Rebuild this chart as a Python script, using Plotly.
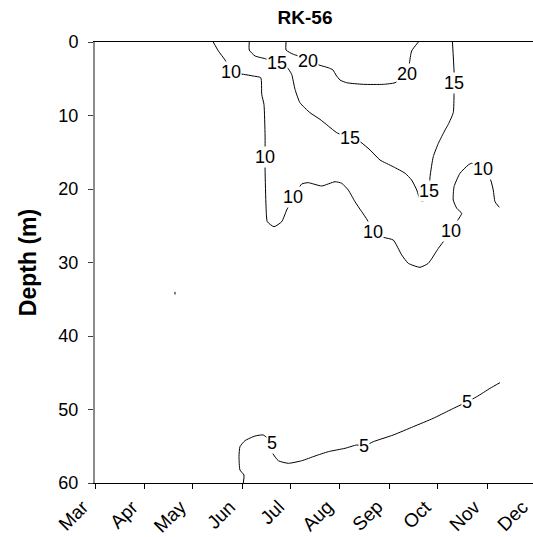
import plotly.graph_objects as go

# ---- data (x = days since 1 March, y = depth in m) ----
month_labels = ["Mar", "Apr", "May", "Jun", "Jul", "Aug", "Sep", "Oct", "Nov", "Dec"]
month_days = [31, 30, 31, 30, 31, 31, 30, 31, 30]
depth_ticks = [0, 10, 20, 30, 40, 50, 60]

c10_day = [73.9, 77.1, 81.3, 84.8, 88.8, 92.7, 98.9, 103.6, 104.2, 105.6, 106.3, 106.3, 106.3,
           106.9, 107.7, 111.9, 116.7, 119.8, 123.9, 129.2, 133.3, 141.7, 150.0, 154.2, 158.3,
           162.5, 166.7, 170.2, 173.9, 180.2, 186.4, 191.7, 195.8, 203.1, 208.3, 214.6, 217.7,
           222.3, 227.1, 229.2, 226.1, 223.9, 224.4, 228.1, 233.3, 235.4, 242.7, 247.3, 248.9,
           250.0, 252.7]
c10_depth = [0.0, 1.22, 2.45, 3.81, 4.29, 4.39, 4.63, 4.86, 7.12, 8.48, 12.79, 15.61, 17.41,
             22.41, 24.45, 25.13, 24.45, 22.86, 21.13, 19.32, 19.14, 19.59, 19.01, 19.22, 20.14,
             21.73, 23.09, 24.22, 25.81, 26.57, 26.94, 28.98, 30.11, 30.65, 30.11, 28.07, 27.17,
             25.67, 24.12, 23.31, 22.63, 21.50, 19.69, 17.86, 16.73, 16.50, 17.32, 18.78, 20.14,
             21.73, 22.49]

c15_day = [96.4, 96.4, 100.0, 106.3, 113.9, 120.2, 122.9, 125.0, 128.1, 134.4, 140.6, 145.8,
           151.1, 159.4, 165.6, 171.9, 178.1, 186.4, 193.8, 197.9, 201.1, 202.1, 203.8, 206.9,
           208.9, 209.4, 211.4, 214.6, 218.8, 220.8, 223.9, 224.4, 224.4, 224.4, 223.4]
c15_depth = [0.0, 1.09, 1.90, 2.27, 2.90, 3.50, 4.39, 6.44, 8.26, 9.62, 10.52, 11.43,
             12.34, 13.10, 13.56, 14.69, 16.05, 16.97, 17.86, 18.78, 20.14, 20.82, 21.63, 21.5,
             20.23, 18.33, 15.61, 13.78, 11.97, 11.20, 9.62, 7.12, 5.54, 3.95, 0.0]

c20_day = [119.4, 119.4, 123.9, 127.1, 133.3, 140.6, 145.8, 148.75, 150.6, 153.1, 157.3,
           167.7, 180.2, 187.5, 195.2, 196.4, 197.9, 202.1]
c20_depth = [0.0, 1.09, 1.67, 1.90, 2.59, 3.17, 3.50, 3.81, 4.49, 5.17, 5.54,
             5.76, 5.76, 5.54, 4.39, 3.03, 1.22, 0.0]

c5_day = [92.7, 93.1, 90.6, 90.0, 90.6, 93.75, 100.0, 105.2, 110.4, 111.1, 114.6, 120.8,
          129.2, 137.5, 145.8, 156.25, 163.6, 168.3, 173.9, 186.4, 198.9, 211.4, 221.9,
          232.7, 238.6, 246.9, 253.1]
c5_depth = [60.0, 58.91, 58.23, 56.42, 55.06, 54.24, 53.61, 53.47, 54.52, 55.96, 56.97, 57.32,
            56.97, 56.33, 55.74, 55.28, 54.83, 54.97, 54.38, 53.47, 52.34, 51.20, 50.07,
            48.94, 48.26, 47.12, 46.35]

speck_day = [50.0, 50.0]
speck_depth = [34.0, 34.35]

label_text = ["10", "10", "10", "10", "10", "10",
              "15", "15", "15", "15",
              "20", "20",
              "5", "5", "5"]
label_day = [84.8, 106.3, 123.9, 173.9, 222.3, 242.7,
             113.9, 159.4, 208.9, 224.4,
             133.3, 195.2,
             110.4, 168.3, 232.7]
label_depth = [4.08, 15.6, 21.1, 25.8, 25.7, 17.3,
               2.90, 13.10, 20.23, 5.54,
               2.59, 4.39,
               54.52, 54.97, 48.94]

# ---- figure ----
W, H = 533, 537
ML, MR, MT, MB = 95, 0, 42, 54
px_per_day = 1.6
x_max = (W - ML - MR) / px_per_day

tick_pos = [0]
for d in month_days:
    tick_pos.append(tick_pos[-1] + d)

FONT = "Arial, 'Liberation Sans', Helvetica, sans-serif"
FS = 18

fig = go.Figure()
for xs, ys in [(c10_day, c10_depth), (c15_day, c15_depth), (c20_day, c20_depth),
               (c5_day, c5_depth), (speck_day, speck_depth)]:
    fig.add_trace(go.Scatter(x=xs, y=ys, mode="lines",
                             line=dict(color="black", width=1, shape="spline", smoothing=0.5),
                             hoverinfo="skip", showlegend=False, cliponaxis=True))

annotations = []
for t, xd, yd in zip(label_text, label_day, label_depth):
    annotations.append(dict(x=xd, y=yd, xref="x", yref="y", text=t, showarrow=False,
                            bgcolor="white", borderpad=0,
                            font=dict(family=FONT, size=FS, color="black")))

# month labels, rotated, ending just below-left of each tick (Dec lies past the edge)
for name, pos in zip(month_labels, tick_pos):
    annotations.append(dict(x=pos / x_max, y=0, xref="paper", yref="paper",
                            text=name, showarrow=False, textangle=-45,
                            xanchor="right", yanchor="top", xshift=-1, yshift=-12,
                            borderpad=0,
                            font=dict(family=FONT, size=19, color="black")))

fig.update_layout(
    width=W, height=H,
    margin=dict(l=ML, r=MR, t=MT, b=MB, autoexpand=False),
    paper_bgcolor="white", plot_bgcolor="white",
    font=dict(family=FONT, size=FS, color="black"),
    title=dict(text="<b>RK-56</b>", x=305 / W, xref="container", xanchor="center",
               y=1 - 17 / H, yref="container", yanchor="middle",
               font=dict(family=FONT, size=19, color="black")),
    annotations=annotations,
)
fig.update_xaxes(range=[0, x_max], tickvals=tick_pos, showticklabels=False,
                 ticks="outside", ticklen=5, tickcolor="black",
                 showline=True, linecolor="black", linewidth=1, mirror=True,
                 showgrid=False, zeroline=False, automargin=False)
fig.update_yaxes(range=[60, 0], tickvals=depth_ticks, ticks="outside", ticklen=5,
                 tickcolor="#404040", showline=True, linecolor="#8c8c8c", linewidth=2,
                 showgrid=False, zeroline=False, automargin=False, ticklabelstandoff=6,
                 title=dict(text="<b>Depth (m)</b>", standoff=15,
                            font=dict(family=FONT, size=23, color="black")),
                 tickfont=dict(family=FONT, size=FS, color="black"))

fig.write_html("out.html", config={"displayModeBar": False},
               post_script="document.body.style.margin='0px';")
